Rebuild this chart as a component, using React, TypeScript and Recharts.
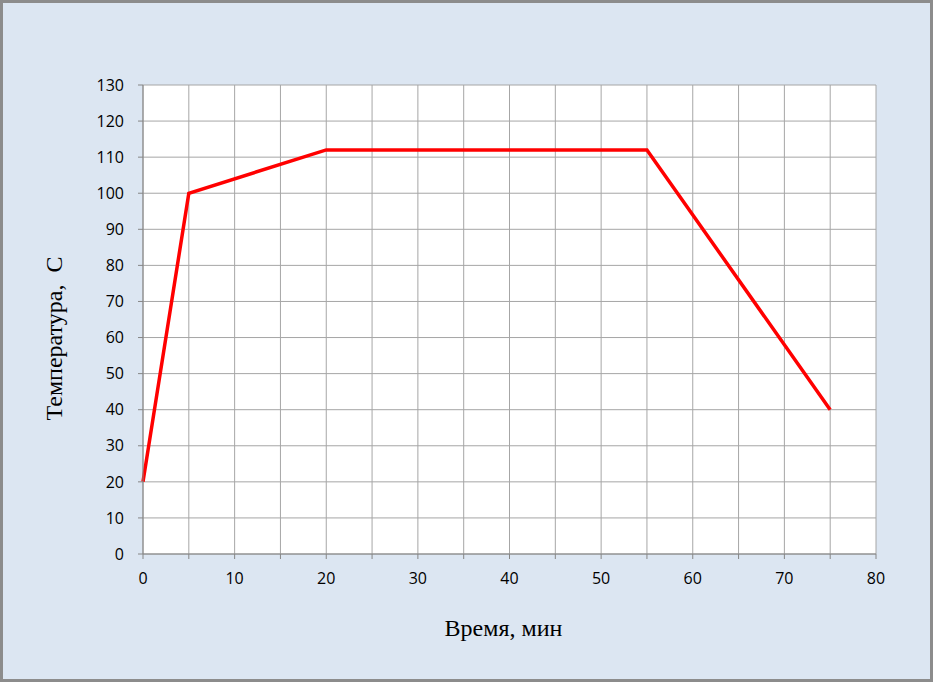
import React from 'react';
import { LineChart, Line, XAxis, YAxis, CartesianGrid } from 'recharts';

const timeMin = [0, 5, 20, 55, 75];
const tempC = [20, 100, 112, 112, 40];
const xTicks = [0, 5, 10, 15, 20, 25, 30, 35, 40, 45, 50, 55, 60, 65, 70, 75, 80];
const yTicks = [0, 10, 20, 30, 40, 50, 60, 70, 80, 90, 100, 110, 120, 130];

const data = timeMin.map((t, i) => ({ t, v: tempC[i] }));

const tickFont = { fontFamily: 'Open Sans, Liberation Sans, sans-serif', fontSize: 16, fill: '#000' };

const YLabel = (props: any) => {
  const vb = props.viewBox || {};
  const cy = vb.y + vb.height / 2 + 19;
  const cx = 54;
  return (
    <text x={cx} y={cy} transform={`rotate(-90 ${cx} ${cy})`} textAnchor="middle" dominantBaseline="central"
      style={{ fontFamily: 'Liberation Serif, Times New Roman, serif', fontSize: 24, whiteSpace: 'pre' }} fill="#000">
      {'Температура,  С'}
    </text>
  );
};

const XLabel = (props: any) => {
  const vb = props.viewBox || {};
  const cx = vb.x + vb.width / 2 - 6;
  return (
    <text x={cx} y={628} textAnchor="middle" dominantBaseline="central"
      style={{ fontFamily: 'Liberation Serif, Times New Roman, serif', fontSize: 24 }} fill="#000">
      Время, мин
    </text>
  );
};

export default function App() {
  return (
    <div style={{ position: 'absolute', left: 0, top: 0, width: 933, height: 682, boxSizing: 'border-box', border: '3px solid #8c8c8c', background: '#dce6f2' }}>
      <div style={{ position: 'absolute', left: -3, top: -3 }}>
        <LineChart width={933} height={682} data={data} margin={{ top: 85, right: 57, left: 83, bottom: 58 }}>
          <CartesianGrid stroke="#a6a6a6" strokeWidth={1} horizontal vertical fill="#ffffff" fillOpacity={1} />
          <XAxis dataKey="t" type="number" domain={[0, 80]} ticks={xTicks} interval={0}
            tickFormatter={(v: number) => (v % 10 === 0 ? String(v) : '')}
            stroke="#868686" tickSize={5} tickMargin={14} height={70} tick={tickFont}
            label={<XLabel />} />
          <YAxis type="number" domain={[0, 130]} ticks={yTicks} interval={0}
            stroke="#868686" tickSize={5} tickMargin={14} width={60} tick={tickFont}
            label={<YLabel />} />
          <Line type="linear" dataKey="v" stroke="#ff0000" strokeWidth={3.5} dot={false} isAnimationActive={false} />
        </LineChart>
      </div>
    </div>
  );
}
